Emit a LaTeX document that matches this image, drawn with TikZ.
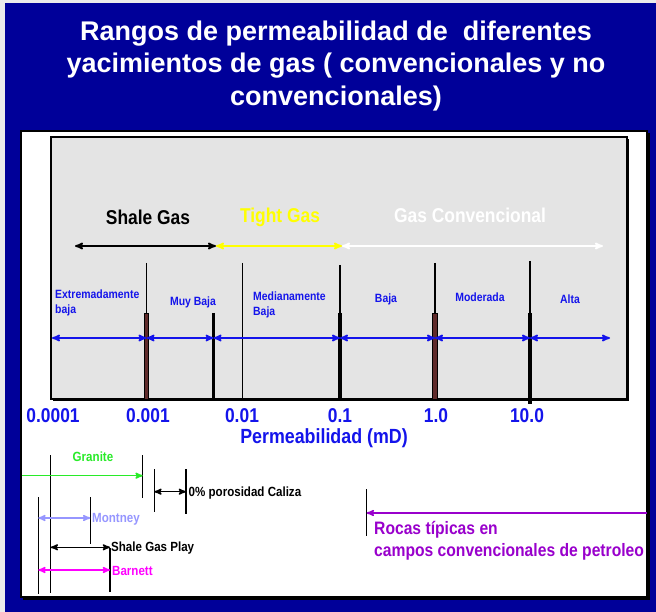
\documentclass[tikz,border=0pt]{standalone}
\usepackage{fontspec}
\setmainfont{Liberation Sans}
\newfontfamily\chartfont{Liberation Sans}[FakeStretch=0.87]
\usetikzlibrary{arrows,positioning}
\definecolor{fondoazul}{RGB}{0,0,153}
\definecolor{grischart}{RGB}{228,228,228}
\definecolor{rangoazul}{RGB}{20,20,235}
\definecolor{barramarron}{RGB}{95,42,42}
\definecolor{amarillo}{RGB}{255,255,0}
\definecolor{verdegranito}{RGB}{40,235,40}
\definecolor{lavanda}{RGB}{150,150,255}
\definecolor{magenta2}{RGB}{255,0,255}
\definecolor{purpura}{RGB}{153,0,204}
\tikzset{
    titulo/.style={
    text=white,font=\bfseries\fontsize{27}{32.5}\selectfont,align=center
    },
    categoria/.style={
    font=\chartfont\bfseries\fontsize{20}{24}\selectfont,inner sep=0pt
    },
    rango/.style={
    text=rangoazul,font=\chartfont\bfseries\fontsize{12}{15}\selectfont,inner sep=0pt,align=left
    },
    eje/.style={
    text=rangoazul,font=\chartfont\bfseries\fontsize{20}{24}\selectfont,inner sep=0pt
    },
    roca/.style={
    font=\chartfont\bfseries\fontsize{13.3}{16}\selectfont,inner sep=0pt,align=left
    },
    finatick/.style={
    draw=black,line width=1.2pt
    },
    gruesatick/.style={
    draw=black,line width=3.6pt
    },
    marrontick/.style={
    fill=barramarron,draw=black,line width=0.8pt
    },
    flecharango/.style={
    draw=rangoazul,line width=1.7pt,<->
    },
    flechacat/.style={
    line width=1.7pt,<->
    },
    limite/.style={
    draw=black,line width=1.2pt
    },
    flechaabajo/.style={
    line width=1.5pt
    },
}
\begin{document}
\begin{tikzpicture}[x=1pt,y=-1pt,>=stealth']
  % fondo y marco
  \fill[white!92!black] (0,0) rectangle (656,612);
  \fill[fondoazul] (5,3) rectangle (656,612);
  \node[titulo] (tit) at (336,66) {Rangos de permeabilidad de~ diferentes\\yacimientos de gas ( convencionales y no\\convencionales)};
  \fill[black] (23,133) rectangle (650,600);
  \filldraw[fill=white,draw=black,line width=1.5pt] (21,131) rectangle (647,597);
  \fill[black] (53,139) rectangle (629,401);
  \filldraw[fill=grischart,draw=black,line width=1.2pt] (51,137) rectangle (627,399);

  % categorias
  \node[categoria,text=black] (shale) at (148,217) {Shale Gas};
  \node[categoria,text=amarillo] (tight) at (280,217) {Tight Gas};
  \node[categoria,text=white] (conv) at (470,215) {Gas Convencional};
  \coordinate (c0) at (75,246);
  \coordinate (c1) at (216,246);
  \coordinate (c2) at (342,246);
  \coordinate (c3) at (603,246);
  \draw[flechacat,black] (c0) -- (c1);
  \draw[flechacat,amarillo] (c1) -- (c2);
  \draw[flechacat,white] (c2) -- (c3);

  % divisiones del eje
  \foreach \x/\t in {146.5/263,340/265,435/263,530/261}
    \draw[finatick] (\x,\t) -- (\x,313);
  \draw[finatick] (242.7,263) -- (242.7,399);
  \draw[gruesatick] (213.6,313) -- (213.6,399);
  \draw[gruesatick] (340,313) -- (340,399);
  \draw[gruesatick] (530,313) -- (530,404);
  \filldraw[marrontick] (144.5,313) rectangle (148.7,399);
  \filldraw[marrontick] (432.7,313) rectangle (437.2,399);

  % rangos
  \foreach \n/\x in {0/52,1/146.5,2/213.6,3/340,4/435,5/530,6/610}
    \coordinate (r\n) at (\x,338);
  \foreach \a/\b in {0/1,1/2,2/3,3/4,4/5,5/6}
    \draw[flecharango] (r\a) -- (r\b);
  \node[rango,anchor=west] (ext) at (55,302.5) {Extremadamente\\baja};
  \node[rango] (muy) at (193,302) {Muy Baja};
  \node[rango,anchor=west] (med) at (253,305) {Medianamente\\Baja};
  \node[rango] (baja) at (386,299) {Baja};
  \node[rango] (mod) at (480,297) {Moderada};
  \node[rango] (alta) at (570,299) {Alta};

  % numeros del eje
  \node[eje] (e1) at (53,416) {0.0001};
  \node[eje] (e2) at (148,416) {0.001};
  \node[eje] (e3) at (242,416) {0.01};
  \node[eje] (e4) at (340,416) {0.1};
  \node[eje] (e5) at (436,416) {1.0};
  \node[eje] (e6) at (527,416) {10.0};
  \node[eje,font=\chartfont\bfseries\fontsize{20.5}{24}\selectfont] (perm) at (324,438.5) {Permeabilidad (mD)};

  % rocas
  \draw[limite] (50.7,455) -- (50.7,593);
  \draw[limite] (142.7,455) -- (142.7,498);
  \draw[limite] (154.3,469) -- (154.3,512);
  \draw[limite] (186,469) -- (186,514);
  \draw[limite] (38.3,497) -- (38.3,594);
  \draw[limite] (90.3,497) -- (90.3,544);
  \draw[limite] (110,548) -- (110,592);
  \draw[limite] (366.7,489) -- (366.7,536);

  \coordinate (g0) at (22,475.7);
  \coordinate (g1) at (142.7,475.7);
  \draw[flechaabajo,->,verdegranito] (g0) -- (g1);
  \node[roca,text=verdegranito] (gran) at (93,457) {Granite};

  \coordinate (p0) at (154.3,491.7);
  \coordinate (p1) at (186,491.7);
  \draw[flechaabajo,<->,black] (p0) -- (p1);
  \node[roca,text=black,anchor=west] (cal) at (188.5,493) {0\% porosidad Caliza};

  \coordinate (m0) at (38.3,518);
  \coordinate (m1) at (90.3,518);
  \draw[flechaabajo,<->,lavanda] (m0) -- (m1);
  \node[roca,text=lavanda,anchor=west] (mont) at (92,519) {Montney};

  \coordinate (s0) at (50.7,547.3);
  \coordinate (s1) at (110,547.3);
  \draw[flechaabajo,<->,black] (s0) -- (s1);
  \node[roca,text=black,anchor=west] (sgp) at (111,548) {Shale Gas Play};

  \coordinate (b0) at (38.3,570);
  \coordinate (b1) at (110,570);
  \draw[flechaabajo,<->,magenta2] (b0) -- (b1);
  \node[roca,text=magenta2,anchor=west] (barn) at (112,571) {Barnett};

  \coordinate (k0) at (647,513);
  \coordinate (k1) at (366.7,513);
  \draw[flechaabajo,->,purpura] (k0) -- (k1);
  \node[roca,text=purpura,anchor=west,font=\chartfont\bfseries\fontsize{18}{22}\selectfont] (roc) at (374,541) {Rocas típicas en\\campos convencionales de petroleo};
\end{tikzpicture}
\end{document}
